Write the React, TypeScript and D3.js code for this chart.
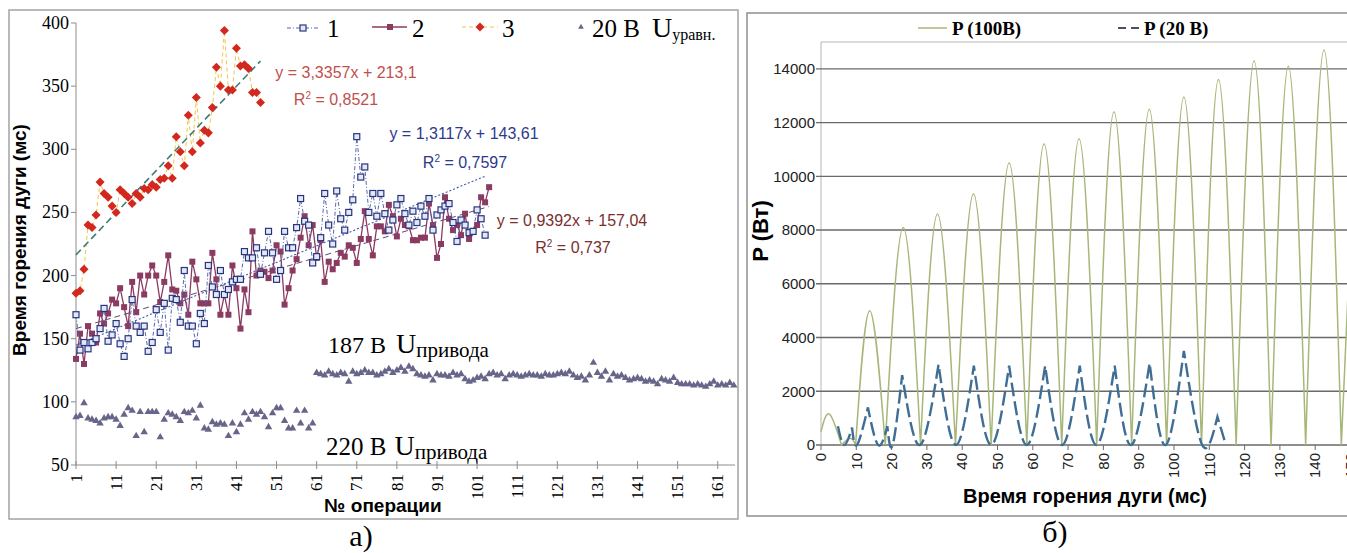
import * as d3 from "d3";

// ---------- panel a): arc burning time vs operation number ----------
const series1 = [
  169, 141, 147, 142, 147, 150, 158, 174, 148, 153, 162, 146, 136, 150, 181, 160, 155, 160, 140, 147,
  173, 155, 178, 141, 182, 181, 163, 204, 160, 160, 146, 170, 162, 208, 191, 185, 204, 185, 189, 195,
  197, 197, 219, 214, 214, 222, 201, 218, 235, 218, 197, 204, 235, 222, 222, 238, 261, 243, 240, 210,
  215, 230, 265, 240, 225, 267, 245, 236, 250, 260, 310, 278, 286, 250, 265, 247, 265, 249, 236, 244,
  256, 261, 249, 240, 251, 242, 255, 247, 261, 236, 248, 252, 255, 257, 242, 227, 244, 240, 234, 235,
  252, 245, 232,
];
const series2 = [
  134, 154, 130, 160, 154, 147, 170, 162, 170, 181, 178, 190, 175, 160, 195, 171, 200, 185, 200, 208,
  200, 179, 195, 216, 189, 188, 178, 185, 169, 211, 197, 178, 178, 178, 218, 197, 169, 185, 169, 208,
  190, 158, 189, 171, 235, 200, 204, 203, 198, 204, 224, 219, 177, 190, 204, 213, 230, 247, 224, 240,
  214, 228, 195, 211, 205, 210, 218, 215, 224, 222, 210, 229, 251, 229, 216, 239, 239, 235, 256, 247,
  231, 245, 240, 239, 228, 228, 230, 230, 257, 240, 214, 225, 262, 245, 236, 240, 232, 249, 229, 235,
  240, 262, 258, 270,
];
const series3 = [
  186, 188, 205, 240, 238, 248, 274, 265, 262, 255, 250, 268, 265, 262, 257, 265, 262, 269, 268, 272,
  270, 276, 277, 287, 277, 310, 298, 287, 327, 298, 341, 305, 315, 313, 333, 365, 350, 394, 347, 347,
  380, 366, 367, 364, 345, 345, 337,
];
// 220 V drive, operations 1..60
const u220 = [
  88, 89, 99, 87, 86, 85, 83, 87, 88, 88, 86, 81, 90, 95, 93, 73, 92, 76, 92, 92,
  92, 72, 86, 91, 90, 88, 85, 92, 91, 93, 87, 97, 79, 78, 84, 82, 83, 82, 73, 83,
  76, 82, 91, 86, 92, 90, 92, 88, 80, 91, 95, 95, 85, 79, 79, 93, 83, 93, 79, 83,
];
// 187 V drive, operations 61..165
const u187 = [
  123, 122, 121, 124, 122, 121, 123, 122, 116, 124, 122, 123, 125, 123, 123, 121, 122, 124, 126, 123,
  125, 127, 124, 128, 126, 122, 121, 120, 121, 117, 122, 121, 121, 120, 123, 121, 122, 118, 116, 117,
  119, 120, 118, 122, 123, 121, 122, 118, 121, 122, 121, 120, 121, 122, 121, 121, 120, 122, 121, 121,
  122, 123, 122, 124, 121, 119, 120, 117, 121, 131, 123, 120, 124, 117, 122, 120, 121, 119, 117, 118,
  119, 118, 116, 117, 116, 114, 118, 117, 116, 119, 115, 114, 114, 114, 113, 114, 113, 112, 114, 116,
  113, 114, 113, 115, 113,
];
const opTicks = [1, 11, 21, 31, 41, 51, 61, 71, 81, 91, 101, 111, 121, 131, 141, 151, 161];
const timeTicks = [50, 100, 150, 200, 250, 300, 350, 400];
const trend1 = [[1, 144.9], [103, 278.7]];
const trend2 = [[1, 158], [104, 254.7]];
const trend3 = [[1, 216.4], [47, 369.9]];

// ---------- panel b): arc power vs time ----------
const p100 = [
  [0, 500], [2.4, 1150], [5.8, 0], [8.3, 250], [9.8, 0], [13.8, 5000], [18.2, 0], [23.3, 8100],
  [28.2, 0], [33, 8600], [38.1, 0], [43.2, 9350], [48.2, 0], [53.3, 10500], [58.3, 0], [63.2, 11200],
  [68.2, 0], [73.1, 11400], [78.1, 0], [83, 12400], [88, 0], [93, 12500], [97.9, 0], [102.8, 12950],
  [107.8, 0], [112.6, 13600], [117.6, 0], [122.7, 14300], [127.5, 0], [132.4, 14100], [137.3, 0],
  [142.5, 14700], [147.4, 0], [152.4, 14900],
];
const p20 = [
  [4.8, 700], [6.6, 0], [8.8, 650], [10.2, 0], [13.3, 1400], [16.2, 0], [18.8, 700], [20.3, 0],
  [23, 2600], [28, 0], [33.3, 3000], [38.2, 0], [43.3, 2950], [48.2, 0], [53.3, 2950], [58.3, 0],
  [63.5, 2950], [68.3, 0], [73.3, 2950], [78, 0], [83.2, 2950], [87.8, 0], [93.1, 3050], [97.6, 0],
  [102.8, 3500], [108, 0], [112.3, 1050], [114.7, 0],
];
const msTicks = [0, 10, 20, 30, 40, 50, 60, 70, 80, 90, 100, 110, 120, 130, 140, 150];
const wTicks = [0, 2000, 4000, 6000, 8000, 10000, 12000, 14000];

const SERIF = "'Liberation Serif', 'Times New Roman', serif";
const SANS = "'Liberation Sans', Arial, sans-serif";

// each half-wave drawn as its own natural spline, joined into one path
function humpPath(pts: number[][], x: (v: number) => number, y: (v: number) => number) {
  const seg = d3.line<number[]>().x(d => x(d[0])).y(d => y(d[1])).curve(d3.curveNatural);
  let out = "";
  for (let k = 0; k + 1 < pts.length; k += 2) {
    const part = seg(pts.slice(k, k + 3)) || "";
    out += k === 0 ? part : part.replace(/^M/, "L");
  }
  return out;
}

export default function App() {
  // panel a scales
  const xA = d3.scaleLinear().domain([1, 165.3]).range([76, 735]);
  const yA = d3.scaleLinear().domain([50, 400]).range([465, 23]);
  // panel b scales
  const xB = d3.scaleLinear().domain([0, 150]).range([821, 1350.5]);
  const yB = d3.scaleLinear().domain([0, 15000]).range([445, 42]);

  const lineA = d3.line<number>().x((d, i) => xA(i + 1)).y(d => yA(d));
  const trendLine = d3.line<number[]>().x(d => xA(d[0])).y(d => yA(d[1]));
  const tri = d3.symbol(d3.symbolTriangle, 24)() || "";
  const triLegend = d3.symbol(d3.symbolTriangle, 14)() || "";

  return (
    <svg width={1347} height={553} style={{ position: "absolute", left: 0, top: 0, background: "#fff" }}>
      {/* ================= panel a ================= */}
      <rect x={9} y={10} width={729} height={509} fill="none" stroke="#a3a3a3" strokeWidth={1.5} />

      {/* axes */}
      <line x1={xA(1)} x2={xA(1)} y1={yA(400)} y2={yA(50)} stroke="#8c8c8c" />
      <line x1={xA(1)} x2={735} y1={yA(50)} y2={yA(50)} stroke="#8c8c8c" />
      {timeTicks.map(t => (
        <g key={"yt" + t}>
          <line x1={xA(1) - 5} x2={xA(1)} y1={yA(t)} y2={yA(t)} stroke="#8c8c8c" />
          <text x={xA(1) - 7} y={yA(t)} dy="0.33em" textAnchor="end" fontFamily={SERIF} fontSize={18}>{t}</text>
        </g>
      ))}
      {opTicks.map(t => (
        <g key={"xt" + t}>
          <line x1={xA(t)} x2={xA(t)} y1={yA(50) - 4} y2={yA(50) + 4} stroke="#8c8c8c" />
          <text transform={`translate(${xA(t)},${yA(50) + 9}) rotate(-90)`} dy="0.33em" textAnchor="end"
            fontFamily={SERIF} fontSize={17}>{t}</text>
        </g>
      ))}
      <text transform="translate(26,240) rotate(-90)" textAnchor="middle" fontFamily={SANS} fontWeight="bold" fontSize={19}>
        Время горения дуги (мс)
      </text>
      <text x={383} y={512} textAnchor="middle" fontFamily={SANS} fontWeight="bold" fontSize={19}>№ операции</text>

      {/* trend lines */}
      <path d={trendLine(trend2) || ""} fill="none" stroke="#5b4b70" strokeWidth={1} strokeDasharray="6 4" />
      <path d={trendLine(trend1) || ""} fill="none" stroke="#3d5aa8" strokeWidth={1.1} strokeDasharray="2 2" />

      {/* series 2 */}
      <path d={lineA(series2) || ""} fill="none" stroke="#8b3a62" strokeWidth={1.3} />
      {series2.map((v, i) => (
        <rect key={"s2" + i} x={xA(i + 1) - 3} y={yA(v) - 3} width={6} height={6} fill="#8b3a62" />
      ))}
      {/* series 1 */}
      <path d={lineA(series1) || ""} fill="none" stroke="#5668ab" strokeWidth={1} strokeDasharray="4 2 1 2" />
      {series1.map((v, i) => (
        <rect key={"s1" + i} x={xA(i + 1) - 3} y={yA(v) - 3} width={6} height={6} fill="#e4e8f6" stroke="#27357e" strokeWidth={1.2} />
      ))}
      {/* series 3 */}
      <path d={lineA(series3) || ""} fill="none" stroke="#f3c44a" strokeWidth={1} strokeDasharray="4 3" />
      <path d={trendLine(trend3) || ""} fill="none" stroke="#3e7d78" strokeWidth={1.6} strokeDasharray="7 4" />
      {series3.map((v, i) => (
        <rect key={"s3" + i} x={-3.2} y={-3.2} width={6.4} height={6.4} fill="#d3281d"
          transform={`translate(${xA(i + 1)},${yA(v)}) rotate(45)`} />
      ))}
      {/* drive voltage series */}
      {u220.map((v, i) => (
        <path key={"u1" + i} d={tri} transform={`translate(${xA(i + 1)},${yA(v)})`} fill="#67668a" />
      ))}
      {u187.map((v, i) => (
        <path key={"u2" + i} d={tri} transform={`translate(${xA(i + 61)},${yA(v)})`} fill="#67668a" />
      ))}

      {/* trend equations */}
      <g fontFamily={SANS} fontSize={16}>
        <text x={346} y={78} textAnchor="middle" fill="#c0504d">y = 3,3357x + 213,1</text>
        <text x={336} y={105} textAnchor="middle" fill="#c0504d">R<tspan dy={-6} fontSize={10}>2</tspan><tspan dy={6}> = 0,8521</tspan></text>
        <text x={464} y={139} textAnchor="middle" fill="#2d3a8c">y = 1,3117x + 143,61</text>
        <text x={465} y={168} textAnchor="middle" fill="#2d3a8c">R<tspan dy={-6} fontSize={10}>2</tspan><tspan dy={6}> = 0,7597</tspan></text>
        <text x={572} y={226} textAnchor="middle" fill="#7a2f2f">y = 0,9392x + 157,04</text>
        <text x={573} y={253} textAnchor="middle" fill="#7a2f2f">R<tspan dy={-6} fontSize={10}>2</tspan><tspan dy={6}> = 0,737</tspan></text>
      </g>

      {/* voltage labels */}
      <text x={328} y={353} fontFamily={SERIF} fontSize={24}>187 В<tspan dx={10} fontSize={28}>U</tspan><tspan fontSize={21} dy={4}>привода</tspan></text>
      <text x={326} y={455} fontFamily={SERIF} fontSize={25}>220 В<tspan dx={8} fontSize={28}>U</tspan><tspan fontSize={21} dy={4}>привода</tspan></text>

      {/* legend */}
      <g>
        <line x1={287} x2={318} y1={28} y2={28} stroke="#5668ab" strokeDasharray="4 2 1 2" />
        <rect x={300} y={25} width={6} height={6} fill="#e4e8f6" stroke="#27357e" strokeWidth={1.2} />
        <text x={327} y={37} fontFamily={SERIF} fontSize={25}>1</text>
        <line x1={372} x2={407} y1={27} y2={27} stroke="#8b3a62" strokeWidth={1.3} />
        <rect x={387} y={24} width={6} height={6} fill="#8b3a62" />
        <text x={412} y={37} fontFamily={SERIF} fontSize={25}>2</text>
        <line x1={462} x2={498} y1={27} y2={27} stroke="#f3c44a" strokeDasharray="4 3" />
        <rect x={-3.2} y={-3.2} width={6.4} height={6.4} fill="#d3281d" transform="translate(480,27) rotate(45)" />
        <text x={502} y={37} fontFamily={SERIF} fontSize={25}>3</text>
        <path d={triLegend} transform="translate(581,27)" fill="#67668a" />
        <text x={592} y={37} fontFamily={SERIF} fontSize={25}>20 В<tspan dx={12} fontSize={28}>U</tspan><tspan fontSize={16} dy={3}>уравн.</tspan></text>
      </g>

      <text x={361} y={546} textAnchor="middle" fontFamily={SERIF} fontSize={30}>а)</text>

      {/* ================= panel b ================= */}
      <rect x={747} y={13} width={620} height={503} fill="none" stroke="#8f8f8f" strokeWidth={1.5} />
      <line x1={xB(0)} x2={1347} y1={42} y2={42} stroke="#cfcfcf" strokeWidth={1.5} />
      <line x1={xB(0)} x2={xB(0)} y1={42} y2={yB(0)} stroke="#b5b5b5" />
      {wTicks.map(t => (
        <g key={"wt" + t}>
          <line x1={xB(0) - 5} x2={1347} y1={yB(t)} y2={yB(t)} stroke="#6a6a6a" strokeWidth={1.4} />
          <text x={xB(0) - 6} y={yB(t)} dy="0.35em" textAnchor="end" fontFamily={SANS} fontSize={15} fill="#222">{t}</text>
        </g>
      ))}
      {msTicks.map(t => (
        <g key={"mt" + t}>
          <line x1={xB(t)} x2={xB(t)} y1={yB(0)} y2={yB(0) + 5} stroke="#6a6a6a" />
          <text transform={`translate(${xB(t)},${yB(0) + 8}) rotate(-90)`} dy="0.35em" textAnchor="end"
            fontFamily={SANS} fontSize={15} fill="#222">{t}</text>
        </g>
      ))}

      <path d={humpPath(p100, xB, yB)} fill="none" stroke="#a7b779" strokeWidth={1.5} />
      <path d={humpPath(p20, xB, yB)} fill="none" stroke="#3f6e95" strokeWidth={2.4} strokeDasharray="14 5" />

      <text transform="translate(768,231) rotate(-90)" textAnchor="middle" fontFamily={SANS} fontWeight="bold" fontSize={22}>P (Вт)</text>
      <text x={1085} y={503} textAnchor="middle" fontFamily={SANS} fontWeight="bold" fontSize={20}>Время горения дуги  (мс)</text>

      {/* legend b */}
      <line x1={918} x2={947} y1={28} y2={28} stroke="#a7b779" strokeWidth={1.5} />
      <text x={952} y={35} fontFamily={SERIF} fontWeight="bold" fontSize={19}>P  (100В)</text>
      <line x1={1118} x2={1141} y1={28} y2={28} stroke="#4a5260" strokeWidth={2} strokeDasharray="8 5" />
      <text x={1144} y={35} fontFamily={SERIF} fontWeight="bold" fontSize={19}>P (20 В)</text>

      <text x={1055} y={542} textAnchor="middle" fontFamily={SERIF} fontSize={30}>б)</text>
    </svg>
  );
}
